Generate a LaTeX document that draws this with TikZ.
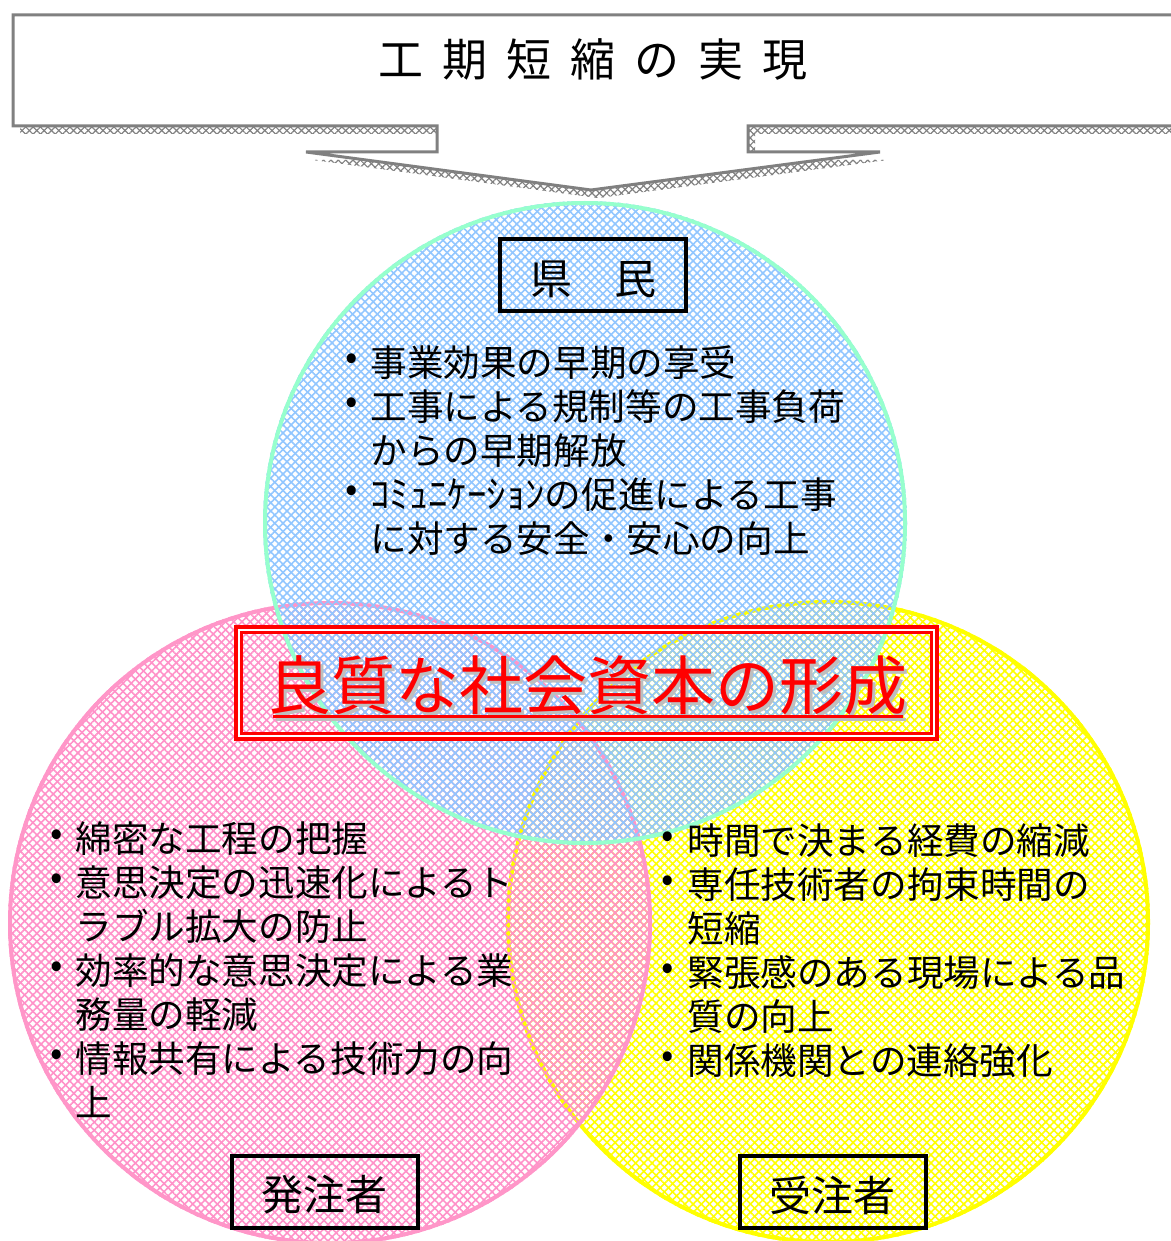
\documentclass[tikz,border=0pt]{standalone}
\usepackage{fontspec}
\usepackage{graphicx}
\setmainfont{Noto Sans CJK JP}
\usetikzlibrary{patterns.meta}
\definecolor{cblue}{RGB}{145,198,255}
\definecolor{cmint}{RGB}{150,255,205}
\definecolor{cpink}{RGB}{255,145,200}
\definecolor{cpinkedge}{RGB}{255,150,200}
\definecolor{cyel}{RGB}{255,255,0}
\definecolor{bgray}{RGB}{128,128,128}
\definecolor{tred}{RGB}{255,0,0}
\definecolor{tshadow}{RGB}{190,190,190}
\tikzset{
  meshA/.style={pattern={Lines[angle=45,distance=2.9pt,line width=0.8pt]},pattern color=#1},
  meshB/.style={pattern={Lines[angle=-45,distance=2.9pt,line width=0.8pt]},pattern color=#1},
  gmeshA/.style={pattern={Lines[angle=45,distance=2.6pt,line width=0.6pt]},pattern color=bgray},
  gmeshB/.style={pattern={Lines[angle=-45,distance=2.6pt,line width=0.6pt]},pattern color=bgray},
  body/.style={font=\fontsize{18.3}{22}\selectfont, inner sep=0pt, anchor=base west},
  bul/.style={font=\fontsize{18.3}{22}\selectfont, inner sep=0pt, anchor=center},
  labelbox/.style={draw=black, line width=2pt, minimum width=93pt, minimum height=36pt, inner sep=0pt},
  labeltext/.style={font=\fontsize{21}{24}\selectfont, inner sep=0pt, anchor=center},
}
\begin{document}
\begin{tikzpicture}[x=0.5pt,y=-0.5pt]
\useasboundingbox (0,0) rectangle (1171,1241);

% ---------- banner with pointer ----------
\begin{scope}[shift={(7,8)}]
\fill[gmeshA] (13,15) -- (1190,15) -- (1190,126) -- (748,126) -- (748,152) -- (880,152) -- (591,190) -- (306,152) -- (437,152) -- (437,126) -- (13,126) -- cycle;
\fill[gmeshB] (13,15) -- (1190,15) -- (1190,126) -- (748,126) -- (748,152) -- (880,152) -- (591,190) -- (306,152) -- (437,152) -- (437,126) -- (13,126) -- cycle;
\end{scope}
\filldraw[draw=bgray, fill=white, line width=1.5pt, line join=miter]
  (13,15) -- (1190,15) -- (1190,126) -- (748,126) -- (748,152) -- (880,152) -- (591,190) -- (306,152) -- (437,152) -- (437,126) -- (13,126) -- cycle;
\node[font=\fontsize{22.5}{26}\selectfont, inner sep=0pt] (banner) at (593,59)
  {工\hspace{9.5pt}期\hspace{9.5pt}短\hspace{9.5pt}縮\hspace{9.5pt}の\hspace{9.5pt}実\hspace{9.5pt}現};

% ---------- circles ----------
\fill[meshA=cyel, fill opacity=.85] (828,922) circle[radius=322];
\fill[meshB=cyel, fill opacity=.85] (828,922) circle[radius=322];
\draw[cyel, line width=2pt] (828,922) circle[radius=320];

\fill[meshA=cpink, fill opacity=.75] (330,923) circle[radius=322];
\fill[meshB=cpink, fill opacity=.75] (330,923) circle[radius=322];
\draw[cpinkedge, line width=2pt] (330,923) circle[radius=320];

\fill[meshA=cblue, fill opacity=.7] (585,523) circle[radius=322];
\fill[meshB=cblue, fill opacity=.7] (585,523) circle[radius=322];
\draw[cmint, line width=2pt] (585,523) circle[radius=320];

% ---------- labels ----------
\node[labelbox] (kbox) at (593,275) {};
\node[labeltext] (ktext) at (593,279) {県　民};
\node[labelbox] (hbox) at (325,1191.5) {};
\node[labeltext] (htext) at (324,1195) {発注者};
\node[labelbox] (jbox) at (833,1191.5) {};
\node[labeltext] (jtext) at (832,1195) {受注者};

% ---------- top circle text ----------
\node[bul] (kb1) at (352,362) {•};
\node[body] (k1) at (370,376) {事業効果の早期の享受};
\node[bul] (kb2) at (352,406) {•};
\node[body] (k2) at (370,420) {工事による規制等の工事負荷};
\node[body] (k3) at (370,464) {からの早期解放};
\node[bul] (kb4) at (352,494) {•};
\node[body] (k4) at (370,508) {\scalebox{1.06}[1.05]{ｺﾐｭﾆｹｰｼｮﾝ}の促進による工事};
\node[body] (k5) at (370,552) {に対する安全・安心の向上};

% ---------- left circle text ----------
\node[bul] (hb1) at (57,838) {•};
\node[body] (h1) at (75,852) {綿密な工程の把握};
\node[bul] (hb2) at (57,882) {•};
\node[body] (h2) at (75,896) {意思決定の迅速化によるト};
\node[body] (h3) at (75,940) {ラブル拡大の防止};
\node[bul] (hb4) at (57,970) {•};
\node[body] (h4) at (75,984) {効率的な意思決定による業};
\node[body] (h5) at (75,1028) {務量の軽減};
\node[bul] (hb6) at (57,1058) {•};
\node[body] (h6) at (75,1072) {情報共有による技術力の向};
\node[body] (h7) at (75,1116) {上};

% ---------- right circle text ----------
\node[bul] (jb1) at (668,840) {•};
\node[body] (j1) at (687,854) {時間で決まる経費の縮減};
\node[bul] (jb2) at (668,884) {•};
\node[body] (j2) at (687,898) {専任技術者の拘束時間の};
\node[body] (j3) at (687,942) {短縮};
\node[bul] (jb4) at (668,972) {•};
\node[body] (j4) at (687,986) {緊張感のある現場による品};
\node[body] (j5) at (687,1030) {質の向上};
\node[bul] (jb6) at (668,1060) {•};
\node[body] (j6) at (687,1074) {関係機関との連絡強化};

% ---------- central title ----------
\draw[tred, line width=4.5pt, line join=miter] (238.5,629.5) rectangle (934.5,736.5);
\draw[white, line width=1pt, line join=miter] (239,630) rectangle (934,736);
\node[font=\fontsize{32}{36}\selectfont, text=tshadow, inner sep=0pt] (titleshadow) at (590,688) {良質な社会資本の形成};
\draw[tshadow, line width=1.5pt] (276,719) -- (906,719);
\node[font=\fontsize{32}{36}\selectfont, text=tred, inner sep=0pt] (title) at (587,685) {良質な社会資本の形成};
\draw[tred, line width=1.5pt] (273,716) -- (903,716);
\end{tikzpicture}
\end{document}
